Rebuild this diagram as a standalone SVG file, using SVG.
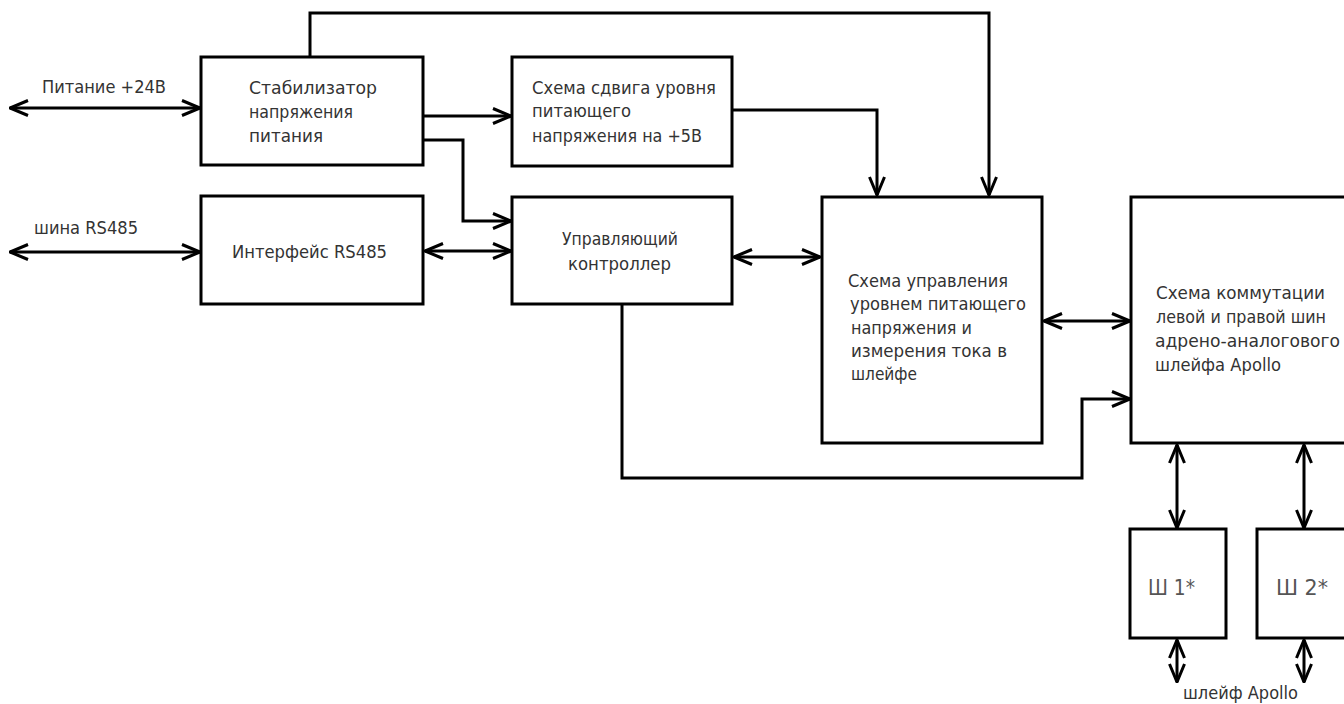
<svg xmlns="http://www.w3.org/2000/svg" width="1344" height="704" viewBox="0 0 1344 704">
<style>
.box{fill:#fff;stroke:#000;stroke-width:3}
.ln{fill:none;stroke:#000;stroke-width:3}
.t{font-family:"DejaVu Sans","Liberation Sans",sans-serif;font-size:17px;fill:#333}
.big{font-family:"DejaVu Sans","Liberation Sans",sans-serif;font-size:22px;fill:#555}
</style>
<defs>
<marker id="a" viewBox="0 0 20 18" markerWidth="20" markerHeight="18" refX="19" refY="9" orient="auto-start-reverse" markerUnits="userSpaceOnUse">
<path d="M1,1.5 L19,9 L1,16.5" fill="none" stroke="#000" stroke-width="3"/>
</marker>
</defs>
<rect width="1344" height="704" fill="#fff"/>
<g id="connectors">
<line class="ln" x1="10" y1="108" x2="200" y2="108" marker-start="url(#a)" marker-end="url(#a)"/>
<line class="ln" x1="10" y1="252" x2="200" y2="252" marker-start="url(#a)" marker-end="url(#a)"/>
<polyline class="ln" points="310,57 310,13 989,13 989,195" marker-end="url(#a)"/>
<line class="ln" x1="423" y1="116" x2="511" y2="116" marker-end="url(#a)"/>
<polyline class="ln" points="423,140 463,140 463,221 511,221" marker-end="url(#a)"/>
<line class="ln" x1="425" y1="251" x2="511" y2="251" marker-start="url(#a)" marker-end="url(#a)"/>
<polyline class="ln" points="732,110 877,110 877,195" marker-end="url(#a)"/>
<line class="ln" x1="734" y1="257" x2="820" y2="257" marker-start="url(#a)" marker-end="url(#a)"/>
<line class="ln" x1="1044" y1="321" x2="1130" y2="321" marker-start="url(#a)" marker-end="url(#a)"/>
<polyline class="ln" points="622,304 622,478 1082,478 1082,399 1130,399" marker-end="url(#a)"/>
<line class="ln" x1="1177" y1="445" x2="1177" y2="528" marker-start="url(#a)" marker-end="url(#a)"/>
<line class="ln" x1="1304" y1="445" x2="1304" y2="528" marker-start="url(#a)" marker-end="url(#a)"/>
<line class="ln" x1="1177" y1="640" x2="1177" y2="682" marker-start="url(#a)" marker-end="url(#a)"/>
<line class="ln" x1="1304" y1="640" x2="1304" y2="682" marker-start="url(#a)" marker-end="url(#a)"/>
</g>
<g id="label-power"><text class="t" x="42" y="93" textLength="124" lengthAdjust="spacingAndGlyphs">Питание +24В</text></g>
<g id="label-rs485"><text class="t" x="34" y="234" textLength="104" lengthAdjust="spacingAndGlyphs">шина RS485</text></g>
<g id="stabilizer">
<rect class="box" x="201" y="57" width="222" height="108"/>
<text class="t" x="249" y="94" textLength="128" lengthAdjust="spacingAndGlyphs">Стабилизатор</text>
<text class="t" x="249" y="118" textLength="104" lengthAdjust="spacingAndGlyphs">напряжения</text>
<text class="t" x="249" y="142" textLength="74" lengthAdjust="spacingAndGlyphs">питания</text>
</g>
<g id="interface">
<rect class="box" x="201" y="196" width="222" height="108"/>
<text class="t" x="232" y="258" textLength="155" lengthAdjust="spacingAndGlyphs">Интерфейс RS485</text>
</g>
<g id="shift">
<rect class="box" x="512" y="57" width="220" height="109"/>
<text class="t" x="532" y="94" textLength="184" lengthAdjust="spacingAndGlyphs">Схема сдвига уровня</text>
<text class="t" x="532" y="117" textLength="99" lengthAdjust="spacingAndGlyphs">питающего</text>
<text class="t" x="532" y="142" textLength="170" lengthAdjust="spacingAndGlyphs">напряжения на +5В</text>
</g>
<g id="controller">
<rect class="box" x="512" y="197" width="220" height="107"/>
<text class="t" x="562" y="245" textLength="116" lengthAdjust="spacingAndGlyphs">Управляющий</text>
<text class="t" x="568" y="270" textLength="103" lengthAdjust="spacingAndGlyphs">контроллер</text>
</g>
<g id="level-control">
<rect class="box" x="822" y="197" width="220" height="246"/>
<text class="t" x="848" y="287" textLength="160" lengthAdjust="spacingAndGlyphs">Схема управления</text>
<text class="t" x="850" y="310" textLength="176" lengthAdjust="spacingAndGlyphs">уровнем питающего</text>
<text class="t" x="851" y="334" textLength="121" lengthAdjust="spacingAndGlyphs">напряжения и</text>
<text class="t" x="851" y="357" textLength="156" lengthAdjust="spacingAndGlyphs">измерения тока в</text>
<text class="t" x="851" y="380" textLength="66" lengthAdjust="spacingAndGlyphs">шлейфе</text>
</g>
<g id="commutation">
<rect class="box" x="1131" y="197" width="240" height="246"/>
<text class="t" x="1156" y="299" textLength="169" lengthAdjust="spacingAndGlyphs">Схема коммутации</text>
<text class="t" x="1156" y="323" textLength="170" lengthAdjust="spacingAndGlyphs">левой и правой шин</text>
<text class="t" x="1155" y="347" textLength="185" lengthAdjust="spacingAndGlyphs">адрено-аналогового</text>
<text class="t" x="1155" y="371" textLength="126" lengthAdjust="spacingAndGlyphs">шлейфа Apollo</text>
</g>
<g id="sh1">
<rect class="box" x="1130" y="529" width="96" height="109"/>
<text class="big" x="1148" y="595" textLength="47" lengthAdjust="spacingAndGlyphs">Ш 1*</text>
</g>
<g id="sh2">
<rect class="box" x="1257" y="529" width="120" height="109"/>
<text class="big" x="1276" y="595" textLength="52" lengthAdjust="spacingAndGlyphs">Ш 2*</text>
</g>
<g id="label-loop"><text class="t" x="1183" y="699" textLength="115" lengthAdjust="spacingAndGlyphs">шлейф Apollo</text></g>
</svg>
